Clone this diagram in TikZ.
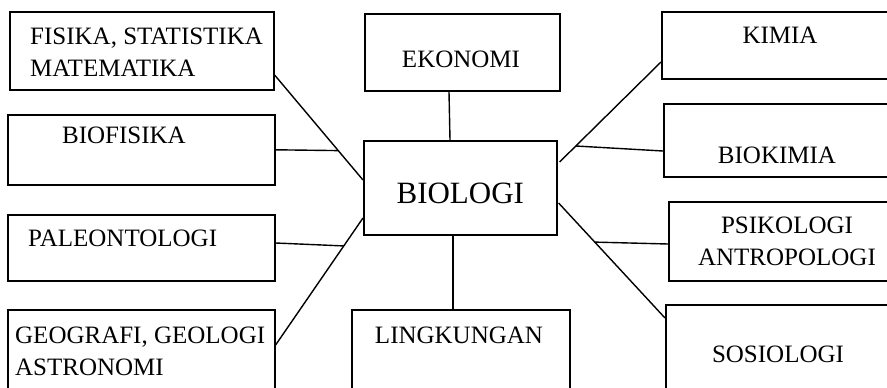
\documentclass[tikz,border=0pt]{standalone}
\usepackage{fontspec}
\setmainfont{Liberation Serif}
\usepackage{tikz}
\usetikzlibrary{calc,positioning}

\tikzset{
	box/.style={draw, line width=1.6pt, inner sep=0pt, anchor=north west},
	lbl/.style={font=\fontsize{25}{31.5}\selectfont, inner sep=0pt},
	link/.style={line width=1.4pt}
}

\begin{document}
\begin{tikzpicture}[x=1pt, y=-1pt]
			%%%%% START %%%%%
			\useasboundingbox (0, 0) rectangle (887, 388);
			\clip (0, 0) rectangle (887, 388);
			
			% left column
			\node[box, minimum width=264, minimum height=78] (fisika) at (9, 11) {};
			\node[box, minimum width=267, minimum height=70] (biofisika) at (7, 114) {};
			\node[box, minimum width=267, minimum height=66] (paleo) at (7, 214) {};
			\node[box, minimum width=267, minimum height=85] (geografi) at (7, 309) {};
			
			\node[lbl, anchor=north west, align=left] (fisikatxt) at ($(fisika.north west)+(21, 17)$) {FISIKA, STATISTIKA\\MATEMATIKA};
			\node[lbl, anchor=west] (biofisikatxt) at ($(biofisika.north west)+(55, 21)$) {BIOFISIKA};
			\node[lbl, anchor=west] (paleotxt) at ($(paleo.north west)+(21, 24.5)$) {PALEONTOLOGI};
			\node[lbl, anchor=north west, align=left] (geografitxt) at ($(geografi.north west)+(8, 18)$) {GEOGRAFI, GEOLOGI\\ASTRONOMI};
			
			% middle column
			\node[box, minimum width=195, minimum height=77] (ekonomi) at (364, 13) {};
			\node[box, minimum width=193, minimum height=94] (biologi) at (363, 140) {};
			\node[box, minimum width=218, minimum height=85] (lingkungan) at (351, 309) {};
			
			\node[lbl] (ekonomitxt) at ($(ekonomi.north west)+(97, 46.5)$) {EKONOMI};
			\node[lbl, font=\fontsize{31}{36}\selectfont] (biologitxt) at ($(biologi.center)+(0, 6)$) {BIOLOGI};
			\node[lbl] (lingkungantxt) at ($(lingkungan.north west)+(108, 26)$) {LINGKUNGAN};
			
			% right column
			\node[box, minimum width=235, minimum height=67] (kimia) at (661, 11) {};
			\node[box, minimum width=235, minimum height=73] (biokimia) at (663, 103) {};
			\node[box, minimum width=230, minimum height=79] (psikologi) at (668, 201) {};
			\node[box, minimum width=235, minimum height=90] (sosiologi) at (665, 304) {};
			
			\node[lbl] (kimiatxt) at ($(kimia.north west)+(119, 24)$) {KIMIA};
			\node[lbl] (biokimiatxt) at ($(biokimia.north west)+(114, 52)$) {BIOKIMIA};
			\node[lbl, anchor=north, align=center] (psikologitxt) at ($(psikologi.north west)+(119, 16)$) {PSIKOLOGI\\ANTROPOLOGI};
			\node[lbl] (sosiologitxt) at ($(sosiologi.north west)+(113, 50)$) {SOSIOLOGI};
			
			% connectors
			\draw[link] ($(ekonomi.south west)+(85, 0)$) -- ($(biologi.north west)+(87, 0)$);
			\draw[link] ($(biologi.south west)+(90, 0)$) coordinate (l1) -- (l1 |- lingkungan.north);
			
			\draw[link] ($(fisika.north east)+(0, 64)$) -- ($(biologi.north west)+(0, 40)$) coordinate[pos=0.72] (m1);
			\draw[link] (biofisika.east) -- (m1);
			\draw[link] ($(geografi.north east)+(0, 36)$) -- ($(biologi.north west)+(0, 78)$) coordinate[pos=0.78] (m2);
			\draw[link] ($(paleo.north east)+(0, 29)$) -- (m2);
			
			\draw[link] ($(kimia.north west)+(0, 51)$) -- ($(biologi.north east)+(2, 22)$) coordinate[pos=0.84] (m3);
			\draw[link] (m3) -- ($(biokimia.north west)+(0, 48)$);
			\draw[link] ($(biologi.north east)+(1, 63)$) -- ($(sosiologi.north west)+(0, 14)$) coordinate[pos=0.34] (m4);
			\draw[link] (m4) -- ($(psikologi.north west)+(0, 43)$);
			%%%%% END %%%%%
\end{tikzpicture}
\end{document}
